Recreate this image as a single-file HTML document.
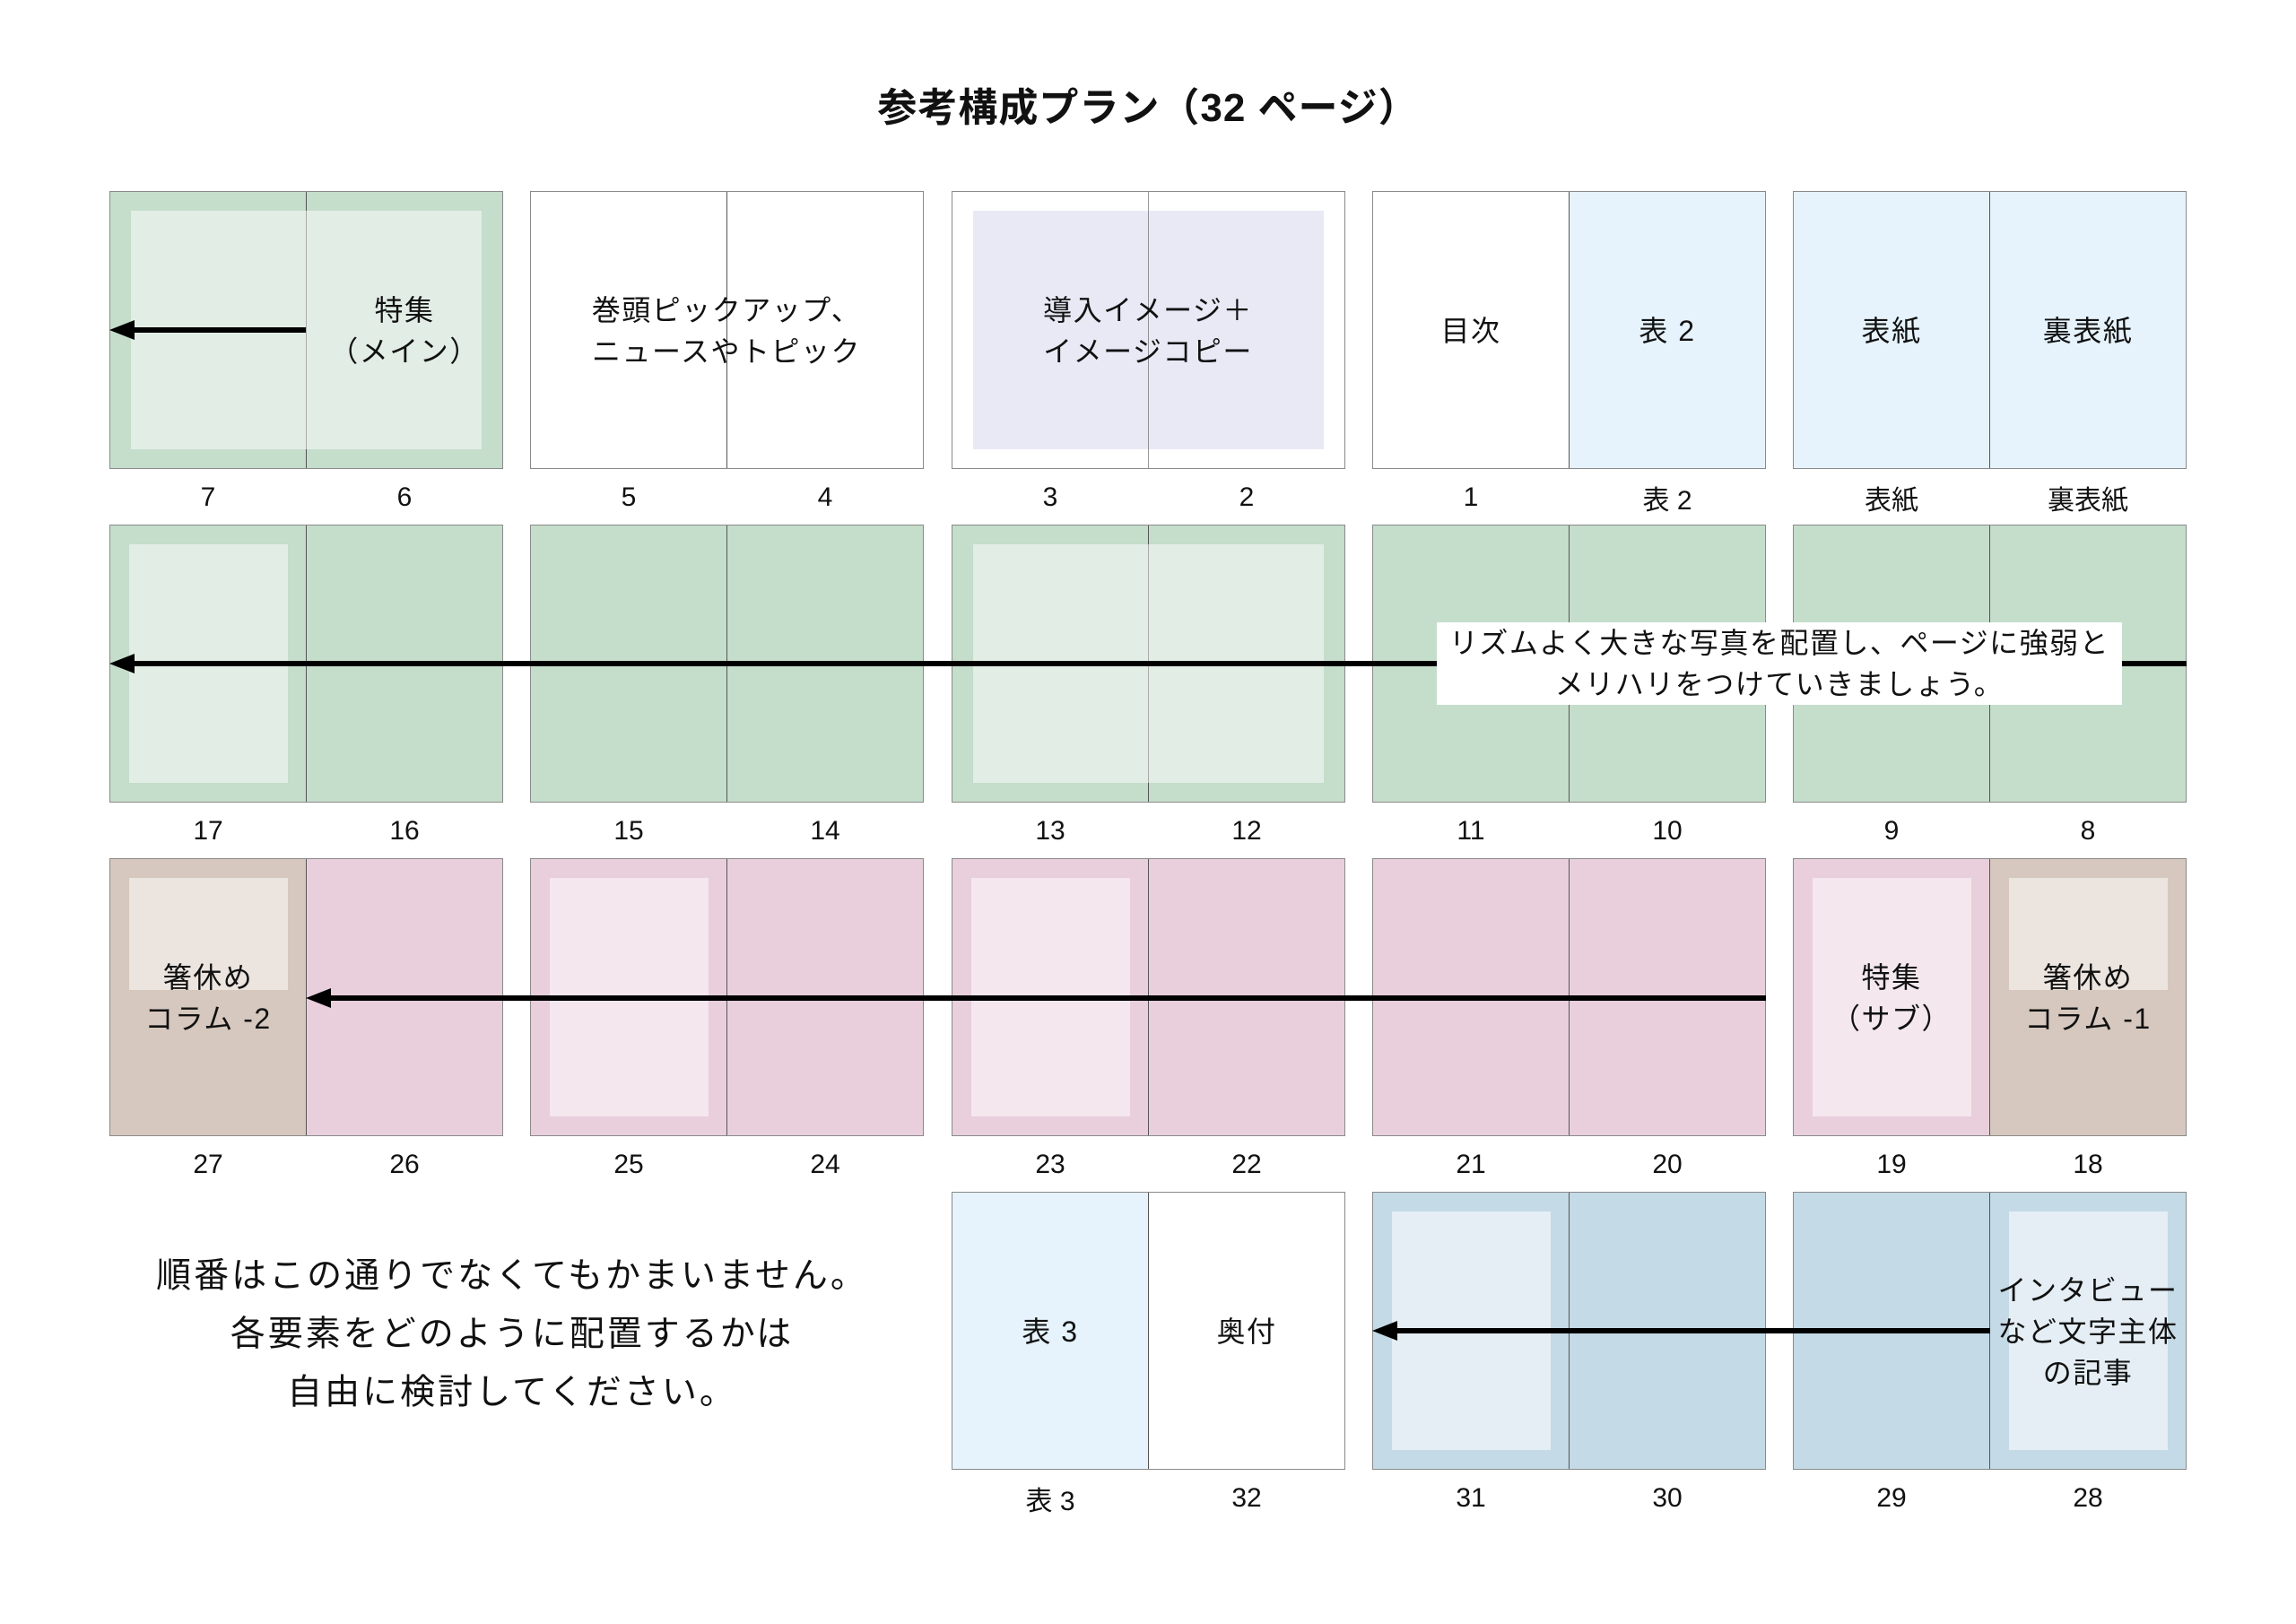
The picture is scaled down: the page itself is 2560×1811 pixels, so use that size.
<!DOCTYPE html>
<html><head><meta charset="utf-8"><style>
html,body{margin:0;padding:0;background:#fff;}
body{width:2560px;height:1811px;position:relative;overflow:hidden;font-family:"Liberation Sans","Noto Sans CJK JP",sans-serif;color:#111;}
.sp{position:absolute;width:439px;height:310px;box-sizing:border-box;border:1.5px solid #8a8a8a;}
.pg{position:absolute;top:0;height:100%;width:50%;}
.l{left:0}.r{right:0}
.spine{position:absolute;left:50%;top:0;bottom:0;width:1.5px;margin-left:-0.75px;background:#555;}
.in{position:absolute;}
.t{position:absolute;text-align:center;font-size:32px;line-height:46px;letter-spacing:1.5px;white-space:nowrap;transform:translate(-50%,-50%);}
.n{position:absolute;font-size:30px;transform:translate(-50%,-50%);white-space:nowrap;}
.ar{position:absolute;height:6px;background:#000;}
.hd{position:absolute;width:0;height:0;border-top:11px solid transparent;border-bottom:11px solid transparent;border-right:28px solid #000;}
</style></head><body>
<div class="t" style="left:1280px;top:121px;font-size:44px;font-weight:bold;letter-spacing:1px;">参考構成プラン（32 ページ）</div>

<div class="sp" style="left:122px;top:213px;background:#c5ddcb;"><div class="spine"></div><div class="in" style="left:23px;top:21px;right:23px;bottom:21px;background:rgba(255,255,255,0.5)"></div></div>
<div class="sp" style="left:591px;top:213px;background:#fff;"><div class="spine"></div></div>
<div class="sp" style="left:1061px;top:213px;background:#fff;"><div class="in" style="left:23px;top:21px;right:23px;bottom:21px;background:#e9e9f6"></div><div class="spine" style="opacity:.6"></div></div>
<div class="sp" style="left:1530px;top:213px;background:#fff;"><div class="pg r" style="background:#e6f3fc"></div><div class="spine"></div></div>
<div class="sp" style="left:1999px;top:213px;background:#e6f3fc;"><div class="spine"></div></div>
<div class="ar" style="left:140px;top:365px;width:201px;"></div><div class="hd" style="left:122px;top:357px;"></div>
<div class="t" style="left:451px;top:369px;">特集<br>（メイン）</div>
<div class="t" style="left:810px;top:369px;">巻頭ピックアップ、<br>ニュースやトピック</div>
<div class="t" style="left:1280px;top:369px;">導入イメージ＋<br>イメージコピー</div>
<div class="t" style="left:1640px;top:369px;">目次</div>
<div class="t" style="left:1859px;top:369px;">表 2</div>
<div class="t" style="left:2109px;top:369px;">表紙</div>
<div class="t" style="left:2328px;top:369px;">裏表紙</div>
<div class="n" style="left:232px;top:555px">7</div><div class="n" style="left:451px;top:555px">6</div>
<div class="n" style="left:701px;top:555px">5</div><div class="n" style="left:920px;top:555px">4</div>
<div class="n" style="left:1171px;top:555px">3</div><div class="n" style="left:1390px;top:555px">2</div>
<div class="n" style="left:1640px;top:555px">1</div><div class="n" style="left:1859px;top:555px">表 2</div>
<div class="n" style="left:2109px;top:555px">表紙</div><div class="n" style="left:2328px;top:555px">裏表紙</div>

<div class="sp" style="left:122px;top:585px;background:#c5ddcb;"><div class="spine"></div><div class="in" style="left:21px;top:21px;width:177px;bottom:21px;background:rgba(255,255,255,0.5)"></div></div>
<div class="sp" style="left:591px;top:585px;background:#c5ddcb;"><div class="spine"></div></div>
<div class="sp" style="left:1061px;top:585px;background:#c5ddcb;"><div class="spine"></div><div class="in" style="left:23px;top:21px;right:23px;bottom:21px;background:rgba(255,255,255,0.5)"></div></div>
<div class="sp" style="left:1530px;top:585px;background:#c5ddcb;"><div class="spine"></div></div>
<div class="sp" style="left:1999px;top:585px;background:#c5ddcb;"><div class="spine"></div></div>
<div class="ar" style="left:140px;top:737px;width:2298px;"></div><div class="hd" style="left:122px;top:729px;"></div>
<div style="position:absolute;left:1602px;top:694px;width:764px;height:92px;background:#fff;"></div>
<div class="t" style="left:1984px;top:740px;">リズムよく大きな写真を配置し、ページに強弱と<br>メリハリをつけていきましょう。</div>
<div class="n" style="left:232px;top:927px">17</div><div class="n" style="left:451px;top:927px">16</div>
<div class="n" style="left:701px;top:927px">15</div><div class="n" style="left:920px;top:927px">14</div>
<div class="n" style="left:1171px;top:927px">13</div><div class="n" style="left:1390px;top:927px">12</div>
<div class="n" style="left:1640px;top:927px">11</div><div class="n" style="left:1859px;top:927px">10</div>
<div class="n" style="left:2109px;top:927px">9</div><div class="n" style="left:2328px;top:927px">8</div>

<div class="sp" style="left:122px;top:957px;background:#e8cfdb;"><div class="pg l" style="background:#d6c8be"><div class="in" style="left:21px;top:21px;width:177px;height:125px;background:rgba(255,255,255,0.5)"></div></div><div class="spine"></div></div>
<div class="sp" style="left:591px;top:957px;background:#e8cfdb;"><div class="spine"></div><div class="in" style="left:21px;top:21px;width:177px;bottom:21px;background:rgba(255,255,255,0.5)"></div></div>
<div class="sp" style="left:1061px;top:957px;background:#e8cfdb;"><div class="spine"></div><div class="in" style="left:21px;top:21px;width:177px;bottom:21px;background:rgba(255,255,255,0.5)"></div></div>
<div class="sp" style="left:1530px;top:957px;background:#e8cfdb;"><div class="spine"></div></div>
<div class="sp" style="left:1999px;top:957px;background:#e8cfdb;"><div class="in" style="left:21px;top:21px;width:177px;bottom:21px;background:rgba(255,255,255,0.5)"></div><div class="pg r" style="background:#d6c8be"><div class="in" style="left:21px;top:21px;width:177px;height:125px;background:rgba(255,255,255,0.5)"></div></div><div class="spine"></div></div>
<div class="ar" style="left:360px;top:1110px;width:1609px;"></div><div class="hd" style="left:341px;top:1102px;"></div>
<div class="t" style="left:232px;top:1113px;">箸休め<br>コラム -2</div>
<div class="t" style="left:2109px;top:1113px;">特集<br>（サブ）</div>
<div class="t" style="left:2328px;top:1113px;">箸休め<br>コラム -1</div>
<div class="n" style="left:232px;top:1299px">27</div><div class="n" style="left:451px;top:1299px">26</div>
<div class="n" style="left:701px;top:1299px">25</div><div class="n" style="left:920px;top:1299px">24</div>
<div class="n" style="left:1171px;top:1299px">23</div><div class="n" style="left:1390px;top:1299px">22</div>
<div class="n" style="left:1640px;top:1299px">21</div><div class="n" style="left:1859px;top:1299px">20</div>
<div class="n" style="left:2109px;top:1299px">19</div><div class="n" style="left:2328px;top:1299px">18</div>

<div class="t" style="left:571px;top:1488px;font-size:39px;line-height:65px;letter-spacing:3px;">順番はこの通りでなくてもかまいません。<br>各要素をどのように配置するかは<br>自由に検討してください。</div>
<div class="sp" style="left:1061px;top:1329px;background:#fff;"><div class="pg l" style="background:#e6f3fc"></div><div class="spine"></div></div>
<div class="sp" style="left:1530px;top:1329px;background:#c4dae6;"><div class="spine"></div><div class="in" style="left:21px;top:21px;width:177px;bottom:21px;background:rgba(255,255,255,0.55)"></div></div>
<div class="sp" style="left:1999px;top:1329px;background:#c4dae6;"><div class="pg r"><div class="in" style="left:21px;top:21px;width:177px;bottom:21px;background:rgba(255,255,255,0.55)"></div></div><div class="spine"></div></div>
<div class="ar" style="left:1548px;top:1481px;width:671px;"></div><div class="hd" style="left:1530px;top:1473px;"></div>
<div class="t" style="left:1171px;top:1485px;">表 3</div>
<div class="t" style="left:1390px;top:1485px;">奥付</div>
<div class="t" style="left:2328px;top:1485px;">インタビュー<br>など文字主体<br>の記事</div>
<div class="n" style="left:1171px;top:1671px">表 3</div><div class="n" style="left:1390px;top:1671px">32</div>
<div class="n" style="left:1640px;top:1671px">31</div><div class="n" style="left:1859px;top:1671px">30</div>
<div class="n" style="left:2109px;top:1671px">29</div><div class="n" style="left:2328px;top:1671px">28</div>
</body></html>
